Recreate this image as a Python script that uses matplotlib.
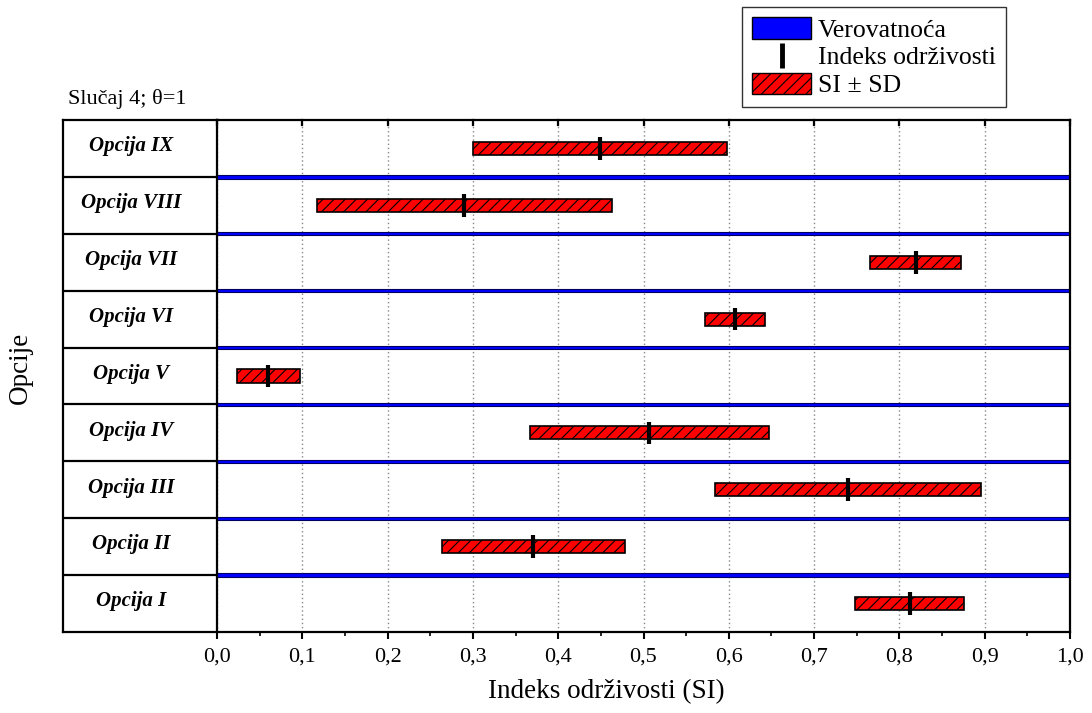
import matplotlib
matplotlib.use("Agg")
import matplotlib.pyplot as plt
from matplotlib.patches import Patch
from matplotlib.lines import Line2D
import numpy as np

plt.rcParams['font.family'] = ['Liberation Serif', 'DejaVu Serif']
plt.rcParams['hatch.linewidth'] = 0.8

# ---- data (bottom to top) ----
options = ["Opcija I", "Opcija II", "Opcija III", "Opcija IV", "Opcija V",
           "Opcija VI", "Opcija VII", "Opcija VIII", "Opcija IX"]
si = [0.812, 0.371, 0.740, 0.507, 0.060, 0.607, 0.819, 0.290, 0.449]
sd = [0.064, 0.107, 0.156, 0.140, 0.037, 0.035, 0.053, 0.173, 0.149]
prob = [1.0, 1.0, 1.0, 1.0, 1.0, 1.0, 1.0, 1.0, 1.0]
xticks = [0.0, 0.1, 0.2, 0.3, 0.4, 0.5, 0.6, 0.7, 0.8, 0.9, 1.0]
xticklabels = ["0,0", "0,1", "0,2", "0,3", "0,4", "0,5", "0,6", "0,7", "0,8", "0,9", "1,0"]

W, H = 1092, 713
fig = plt.figure(figsize=(W / 100, H / 100), dpi=100)

x0, x1, ytop, ybot = 217, 1070, 120, 632
lab = fig.add_axes([63 / W, (H - ybot) / H, (x0 - 63) / W, (ybot - ytop) / H])
ax = fig.add_axes([x0 / W, (H - ybot) / H, (x1 - x0) / W, (ybot - ytop) / H])
ax.patch.set_alpha(0)

n = len(options)
y = np.arange(n)

# probability bars (thin blue, on the boundary above each row; the top one
# coincides with the frame and is hidden there)
ax.barh(y[:-1] + 0.5, prob[:-1], left=0, height=0.06, color='#0000ff',
        edgecolor='#000060', linewidth=0.8, zorder=2)

# SI +- SD bars
left = np.array(si) - np.array(sd)
ax.barh(y, 2 * np.array(sd), left=left, height=0.23, color='#ff0000',
        edgecolor='black', hatch='///', linewidth=1.2, zorder=3)

# SI markers
ax.vlines(si, y - 0.2, y + 0.2, color='black', linewidth=3, zorder=4)

ax.set_xlim(0, 1.0)
ax.set_ylim(-0.5, n - 0.5)
ax.set_xticks(xticks)
ax.set_xticklabels(xticklabels, fontsize=16)
ax.set_xticks(np.arange(0.05, 1.0, 0.1), minor=True)
ax.set_yticks([])
ax.tick_params(axis='x', which='major', direction='out', length=5, width=1.5,
               pad=6, top=False)
ax.tick_params(axis='x', which='minor', direction='out', length=3, width=1.2, top=False)
# inward top ticks
for xt in xticks:
    ax.plot([xt, xt], [n - 0.5, n - 0.5 - 0.09], color='black', lw=1.6,
            clip_on=False, zorder=5)
ax.grid(axis='x', which='major', linestyle=(0, (1, 2)), color='#888888', linewidth=1.0)
ax.set_axisbelow(True)
for s in ax.spines.values():
    s.set_linewidth(1.6)
    s.set_zorder(6)

# label column
lab.set_xlim(0, 1)
lab.set_ylim(-0.5, n - 0.5)
lab.set_xticks([])
lab.set_yticks([])
for s in lab.spines.values():
    s.set_linewidth(1.6)
lab.spines['right'].set_visible(False)
lab.hlines(y[:-1] + 0.5, 0, 1.0, color='black', linewidth=1.6, clip_on=False)
for yi, name in zip(y, options):
    lab.text(0.44, yi + 0.04, name, ha='center', va='center', fontsize=15,
             fontweight='bold', fontstyle='italic')

fig.text(68 / W, 1 - 104 / H, "Slučaj 4; θ=1", fontsize=16, ha='left', va='baseline')
fig.text(606 / W, 1 - 692 / H, "Indeks održivosti (SI)", fontsize=19.5,
         ha='center', va='center')
fig.text(20 / W, 1 - 368 / H, "Opcije", fontsize=19.5, rotation=90,
         ha='center', va='center')

handles = [
    Patch(facecolor='#0000ff', edgecolor='black', linewidth=1.0),
    Line2D([], [], color='black', marker='|', markersize=18, markeredgewidth=3.5,
           linestyle='none'),
    Patch(facecolor='#ff0000', edgecolor='black', hatch='///', linewidth=1.0),
]
labels = ["Verovatnoća", "Indeks održivosti", "SI ± SD"]
leg = fig.legend(handles, labels, loc='upper left',
                 bbox_to_anchor=(742 / W, 1 - 7 / H), fontsize=18.5,
                 frameon=True, fancybox=False, edgecolor='black',
                 handlelength=2.3, handleheight=0.9, handletextpad=0.25,
                 labelspacing=0.12, borderpad=0.4, borderaxespad=0)
leg.get_frame().set_linewidth(1.0)

fig.savefig("out.png", dpi=100)
